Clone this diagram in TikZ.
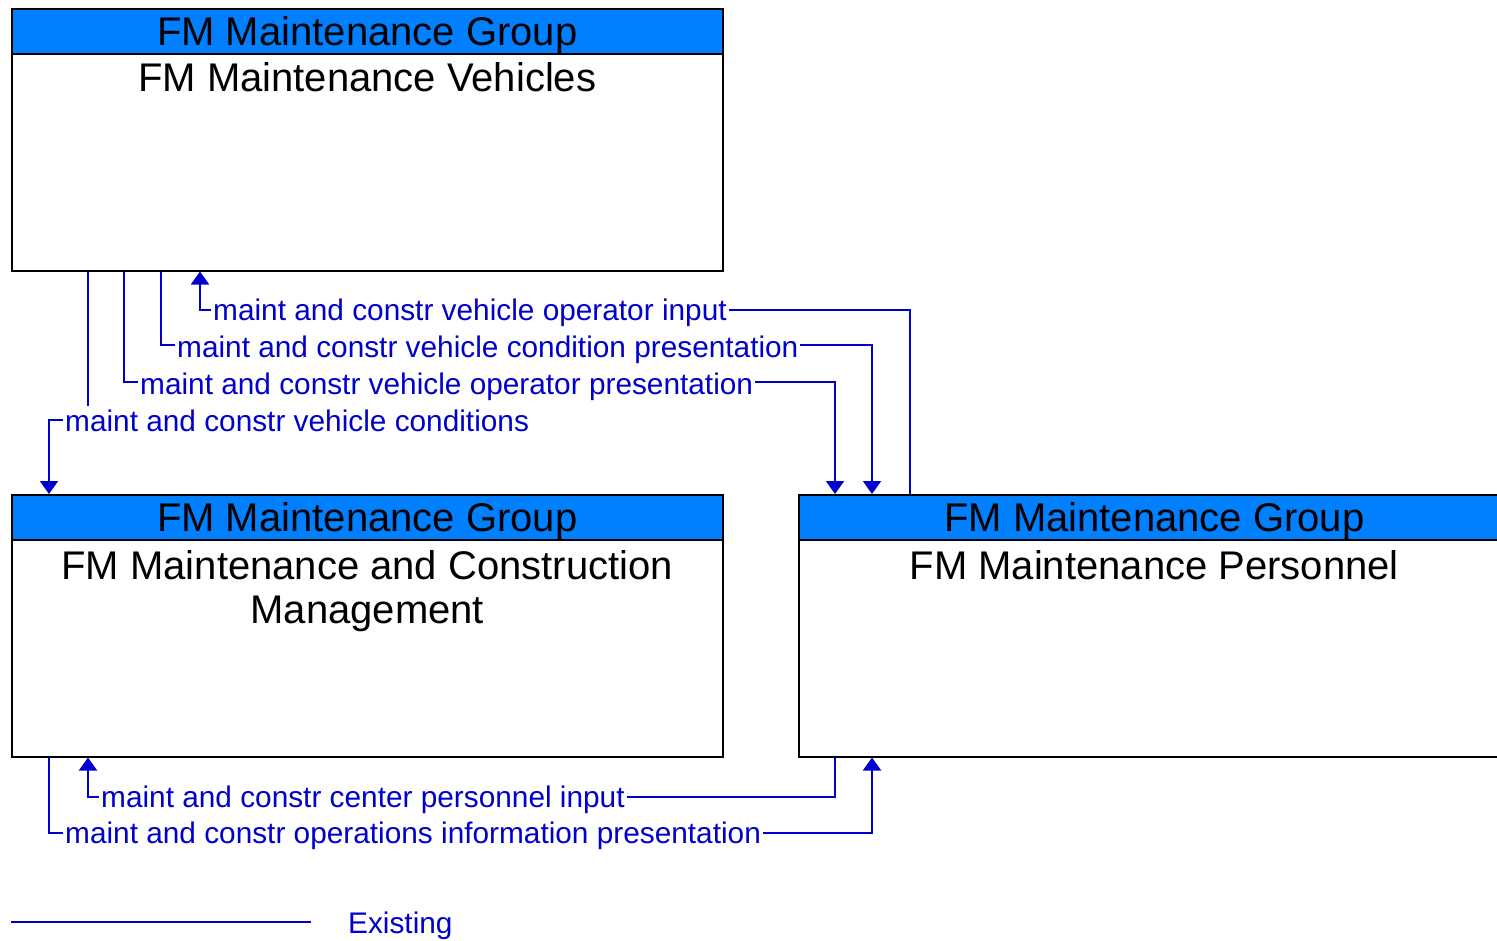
\documentclass[tikz,border=0pt]{standalone}
\usepackage{fontspec}
\setmainfont{Liberation Sans}
\usetikzlibrary{arrows.meta,calc}
\definecolor{flow}{RGB}{0,0,204}
\definecolor{hdr}{RGB}{0,128,255}
\begin{document}
\begin{tikzpicture}[x=1pt,y=-1pt,
  box/.style={draw=black, line width=1.5pt, fill=white, minimum width=711pt, minimum height=262pt, inner sep=0pt, anchor=north west},
  hdrbox/.style={draw=black, line width=1.5pt, fill=hdr, minimum width=711pt, minimum height=45pt, inner sep=0pt, anchor=north},
  ttl/.style={font=\fontsize{40}{44}\selectfont, align=center, inner sep=0pt},
  flowline/.style={draw=flow, line width=2pt},
  arr/.style={-{Triangle[width=18pt,length=13pt]}},
  lbl/.style={fill=white, text=flow, inner sep=2pt, anchor=west, text height=23pt, text depth=1pt, font=\fontsize{29.8}{32}\selectfont}]
\useasboundingbox (0,0) rectangle (1497,940);
% boxes
\node[box] (veh) at (11,8) {};
\node[hdrbox] (vehh) at (veh.north) {};
\node[ttl, anchor=base] (vehg) at ([yshift=-37pt]vehh.north) {FM Maintenance Group};
\node[ttl, anchor=base] (vehn) at ([yshift=-83pt]veh.north) {FM Maintenance Vehicles};

\node[box] (mcm) at (11,494) {};
\node[hdrbox] (mcmh) at (mcm.north) {};
\node[ttl, anchor=base] (mcmg) at ([yshift=-37pt]mcmh.north) {FM Maintenance Group};
\node[ttl, anchor=north] (mcmn) at ([yshift=-56pt]mcm.north) {FM Maintenance and Construction\\Management};

\node[box] (per) at (798,494) {};
\node[hdrbox] (perh) at (per.north) {};
\node[ttl, anchor=base] (perg) at ([yshift=-37pt]perh.north) {FM Maintenance Group};
\node[ttl, anchor=base] (pern) at ([yshift=-85pt]per.north) {FM Maintenance Personnel};

% attachment points
\coordinate (v1) at ([xshift=189pt]veh.south west);
\coordinate (v2) at ([xshift=150pt]veh.south west);
\coordinate (v3) at ([xshift=113pt]veh.south west);
\coordinate (v4) at ([xshift=77pt]veh.south west);
\coordinate (m4) at ([xshift=38pt]mcm.north west);
\coordinate (p1) at ([xshift=112pt]per.north west);
\coordinate (p2) at ([xshift=74pt]per.north west);
\coordinate (p3) at ([xshift=37pt]per.north west);
\coordinate (m5) at ([xshift=77pt]mcm.south west);
\coordinate (m6) at ([xshift=38pt]mcm.south west);
\coordinate (p5) at ([xshift=37pt]per.south west);
\coordinate (p6) at ([xshift=74pt]per.south west);

% connectors
\draw[flowline, arr] (p1) |- ($(v1)+(0,38)$) coordinate (c1) -- (v1);
\node[lbl] (l1) at ($(c1)+(11,0)$) {maint and constr vehicle operator input};

\draw[flowline, arr] (v2) |- ($(p2)+(0,-149)$) -- (p2);
\node[lbl] (l2) at ($(v2)+(14,75)$) {maint and constr vehicle condition presentation};

\draw[flowline, arr] (v3) |- ($(p3)+(0,-112)$) -- (p3);
\node[lbl] (l3) at ($(v3)+(14,112)$) {maint and constr vehicle operator presentation};

\draw[flowline, arr] (v4) |- ($(m4)+(0,-74)$) -- (m4);
\node[lbl] (l4) at ($(m4)+(14,-74)$) {maint and constr vehicle conditions};

\draw[flowline, arr] (p5) |- ($(m5)+(0,39)$) -- (m5);
\node[lbl] (l5) at ($(m5)+(11,39)$) {maint and constr center personnel input};

\draw[flowline, arr] (m6) |- ($(p6)+(0,75)$) -- (p6);
\node[lbl] (l6) at ($(m6)+(14,75)$) {maint and constr operations information presentation};

% legend
\coordinate (lg1) at (11,922);
\coordinate (lg2) at (311,922);
\draw[flowline] (lg1) -- (lg2);
\node[lbl] (lgt) at (346,922) {Existing};
\end{tikzpicture}
\end{document}
